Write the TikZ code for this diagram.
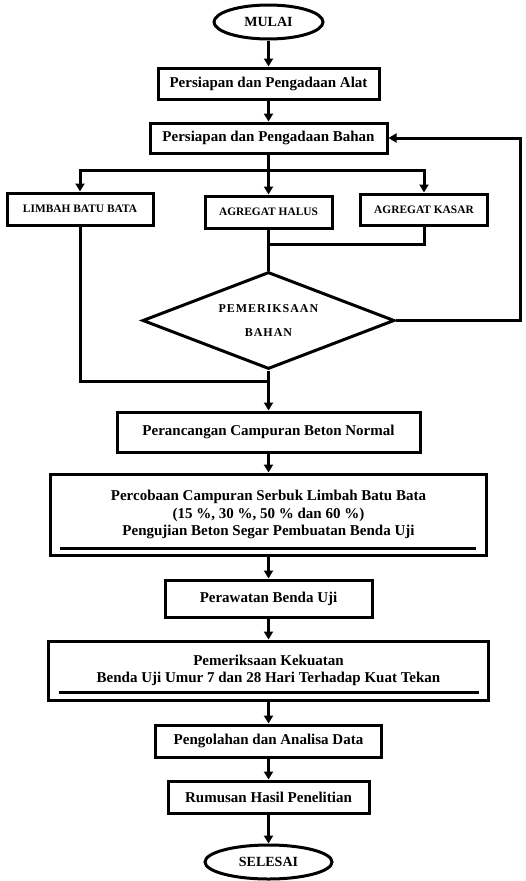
\documentclass[tikz,border=0pt]{standalone}
\usepackage{fontspec}
\setmainfont{Liberation Serif}
\newfontfamily\spacedfont[LetterSpace=8]{Liberation Serif}
\usetikzlibrary{shapes.geometric,arrows.meta}
\begin{document}
\begin{tikzpicture}[x=1pt,y=-1pt,
  line width=3pt,
  box/.style={draw,rectangle,inner sep=0pt,align=center,font=\bfseries\fontsize{15}{17.5}\selectfont},
  smallbox/.style={draw,rectangle,inner sep=0pt,align=center,font=\bfseries\fontsize{11.4}{13}\selectfont},
  term/.style={draw,ellipse,inner sep=0pt,font=\bfseries\fontsize{14}{16}\selectfont},
  arr/.style={-{Triangle[width=9pt,length=8pt]}},
  innerline/.style={line width=2.2pt}
]
\useasboundingbox (0,0) rectangle (526,881);

\node[term,minimum width=109pt,minimum height=34pt] (mulai) at (268.5,22) {MULAI};
\node[box,minimum width=221pt,minimum height=31pt] (alat) at (268.5,83.5) {Persiapan dan Pengadaan Alat};
\node[box,minimum width=237pt,minimum height=30pt] (bahan) at (268.5,138) {Persiapan dan Pengadaan Bahan};

\node[smallbox,minimum width=146pt,minimum height=32pt] (limbah) at (80,209) {LIMBAH BATU BATA};
\node[smallbox,minimum width=127pt,minimum height=32pt] (halus) at (268.5,212) {AGREGAT HALUS};
\node[smallbox,minimum width=127pt,minimum height=31pt] (kasar) at (424,209.5) {AGREGAT KASAR};

\node[draw,diamond,aspect=2.6,inner sep=0pt,minimum width=252pt,minimum height=97pt,align=center,
  font=\bfseries\spacedfont\fontsize{12}{24}\selectfont] (periksa) at (268.5,320.5) {PEMERIKSAAN\\BAHAN};

\node[box,minimum width=303pt,minimum height=40pt] (rancang) at (268.5,432) {Perancangan Campuran Beton Normal};
\node[box,minimum width=436pt,minimum height=81pt] (coba) at (268.5,514.5)
  {\raisebox{4pt}{\begin{tabular}{@{}c@{}}Percobaan Campuran Serbuk Limbah Batu Bata\\(15 \%, 30 \%, 50 \% dan 60 \%)\\Pengujian Beton Segar Pembuatan Benda Uji\end{tabular}}};
\node[box,minimum width=207pt,minimum height=37pt] (rawat) at (268.5,598.5) {Perawatan Benda Uji};
\node[box,minimum width=440pt,minimum height=59pt] (kuat) at (268.5,670.5)
  {\raisebox{3pt}{\begin{tabular}{@{}c@{}}Pemeriksaan Kekuatan\\Benda Uji Umur 7 dan 28 Hari Terhadap Kuat Tekan\end{tabular}}};
\node[box,minimum width=226pt,minimum height=32pt] (olah) at (268.5,741) {Pengolahan dan Analisa Data};
\node[box,minimum width=201pt,minimum height=32pt] (rumus) at (268.5,797) {Rumusan Hasil Penelitian};
\node[term,minimum width=127pt,minimum height=34pt] (selesai) at (268.5,862) {SELESAI};

% inner bottom lines of the wide boxes
\draw[innerline] ([xshift=11pt,yshift=8pt]coba.south west) -- ([xshift=-12pt,yshift=8pt]coba.south east);
\draw[innerline] ([xshift=12pt,yshift=9pt]kuat.south west) -- ([xshift=-11pt,yshift=9pt]kuat.south east);

\coordinate (split) at (268.5,170);
\coordinate (j1) at (268.5,244);
\coordinate (j2) at (268.5,381);
\coordinate (rt) at (520,138);

\draw[arr] (mulai) -- (alat);
\draw[arr] (alat) -- (bahan);
\draw (bahan.south) -- (split);
\draw[arr] (split) -| (limbah.north);
\draw[arr] (split) -- (halus.north);
\draw[arr] (split) -| (kasar.north);
\draw (halus.south) -- (periksa.north);
\draw (kasar.south) |- (j1);
\draw[arr] (periksa.east) -| (rt) -- (bahan.east);
\draw (limbah.south) |- (j2);
\draw[arr] (periksa.south) -- (rancang.north);
\draw[arr] (rancang) -- (coba);
\draw[arr] (coba) -- (rawat);
\draw[arr] (rawat) -- (kuat);
\draw[arr] (kuat) -- (olah);
\draw[arr] (olah) -- (rumus);
\draw[arr] (rumus) -- (selesai);
\end{tikzpicture}
\end{document}
